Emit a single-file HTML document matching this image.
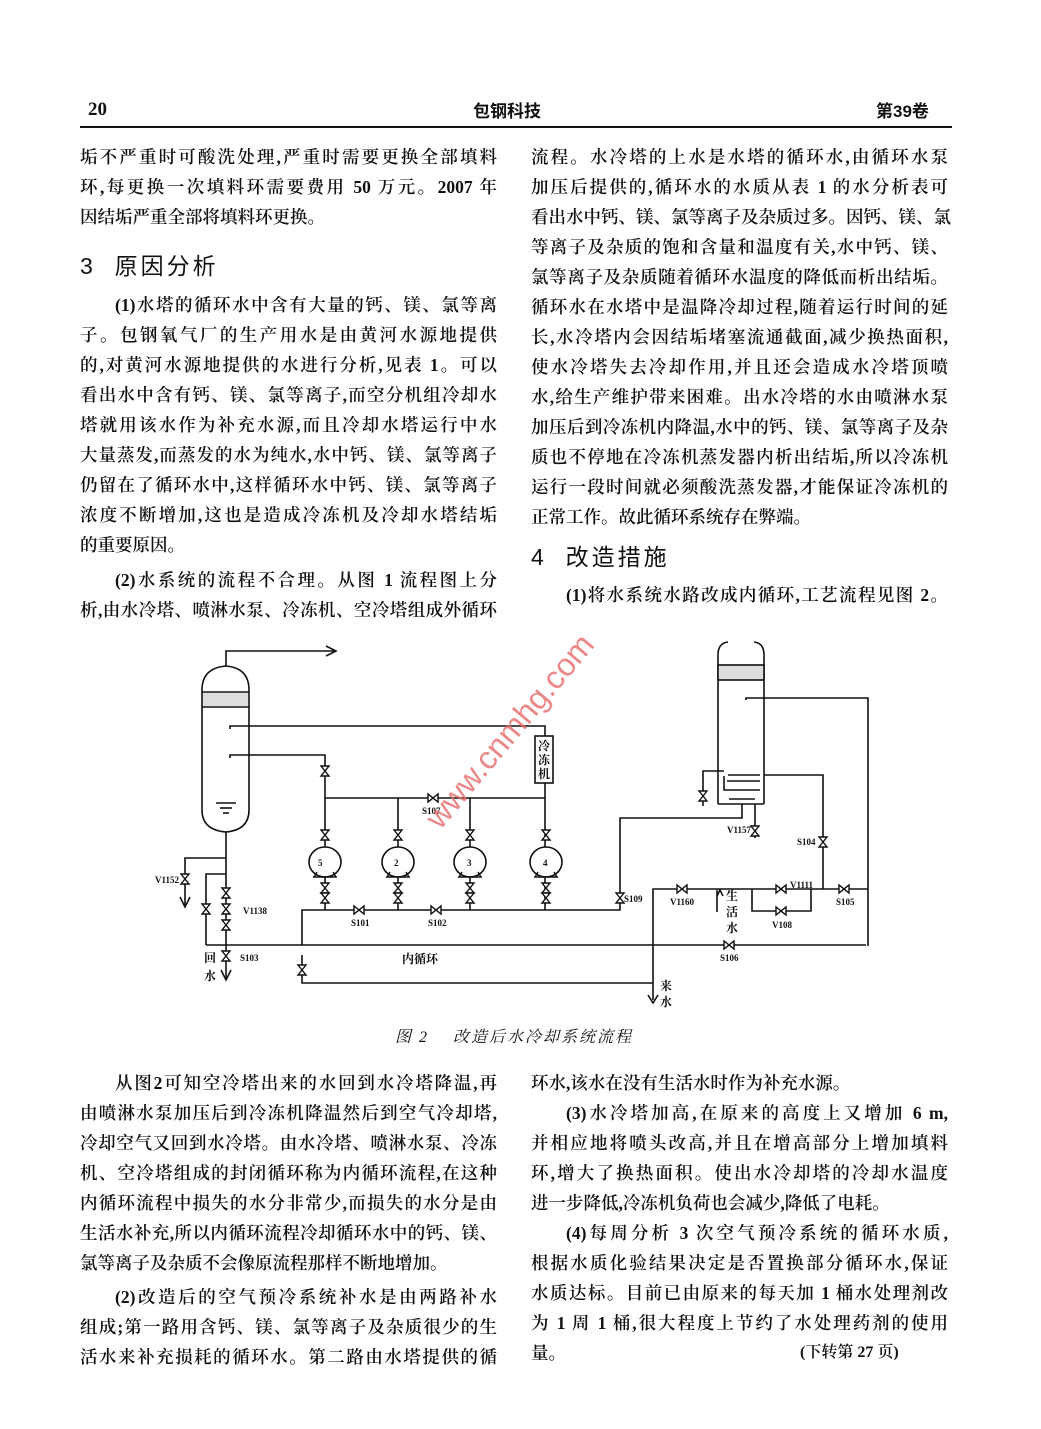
<!DOCTYPE html>
<html><head><meta charset="utf-8"><style>
body{margin:0;background:#fff;}
#p{position:relative;width:1041px;height:1429px;overflow:hidden;background:#fff;font-family:"Liberation Serif","Noto Serif CJK SC",serif;color:#111;}
.l{position:absolute;font-size:17.5px;line-height:22px;height:22px;white-space:nowrap;text-align:justify;text-align-last:justify;font-weight:600;}
.L{left:80px;width:417px}.R{left:531px;width:417px}
.n{text-align-last:left}
.i{text-indent:35px}
.h{position:absolute;font-size:23px;font-family:"Liberation Sans","Noto Sans CJK SC",sans-serif;letter-spacing:3px}
svg text{font-family:"Liberation Serif","Noto Serif CJK SC",serif;font-weight:bold;}
</style></head><body><div id="p">
<div style="position:absolute;left:88px;top:99px;font-size:19px;font-weight:bold">20</div>
<div style="position:absolute;left:473px;top:97px;font-size:17px;font-weight:bold;font-family:'Liberation Sans','Noto Sans CJK SC',sans-serif">包钢科技</div>
<div style="position:absolute;left:876px;top:97px;font-size:17px;font-weight:bold;font-family:'Liberation Sans','Noto Sans CJK SC',sans-serif">第39卷</div>
<div style="position:absolute;left:80px;top:126px;width:872px;height:2px;background:#111"></div>

<div class="l L" style="top:146px">垢不严重时可酸洗处理,严重时需要更换全部填料</div>
<div class="l L" style="top:176px">环,每更换一次填料环需要费用 50 万元。2007 年</div>
<div class="l L n" style="top:206px">因结垢严重全部将填料环更换。</div>
<div class="h" style="left:80px;top:247px">3&nbsp;&nbsp;原因分析</div>
<div class="l L i" style="top:294px">(1)水塔的循环水中含有大量的钙、镁、氯等离</div>
<div class="l L" style="top:324px">子。包钢氧气厂的生产用水是由黄河水源地提供</div>
<div class="l L" style="top:354px">的,对黄河水源地提供的水进行分析,见表 1。可以</div>
<div class="l L" style="top:384px">看出水中含有钙、镁、氯等离子,而空分机组冷却水</div>
<div class="l L" style="top:414px">塔就用该水作为补充水源,而且冷却水塔运行中水</div>
<div class="l L" style="top:444px">大量蒸发,而蒸发的水为纯水,水中钙、镁、氯等离子</div>
<div class="l L" style="top:474px">仍留在了循环水中,这样循环水中钙、镁、氯等离子</div>
<div class="l L" style="top:504px">浓度不断增加,这也是造成冷冻机及冷却水塔结垢</div>
<div class="l L n" style="top:534px">的重要原因。</div>
<div class="l L i" style="top:569px">(2)水系统的流程不合理。从图 1 流程图上分</div>
<div class="l L" style="top:599px">析,由水冷塔、喷淋水泵、冷冻机、空冷塔组成外循环</div>

<div class="l R" style="top:146px">流程。水冷塔的上水是水塔的循环水,由循环水泵</div>
<div class="l R" style="top:176px">加压后提供的,循环水的水质从表 1 的水分析表可</div>
<div class="l R" style="top:206px">看出水中钙、镁、氯等离子及杂质过多。因钙、镁、氯</div>
<div class="l R" style="top:236px">等离子及杂质的饱和含量和温度有关,水中钙、镁、</div>
<div class="l R" style="top:266px">氯等离子及杂质随着循环水温度的降低而析出结垢。</div>
<div class="l R" style="top:296px">循环水在水塔中是温降冷却过程,随着运行时间的延</div>
<div class="l R" style="top:326px">长,水冷塔内会因结垢堵塞流通截面,减少换热面积,</div>
<div class="l R" style="top:356px">使水冷塔失去冷却作用,并且还会造成水冷塔顶喷</div>
<div class="l R" style="top:386px">水,给生产维护带来困难。出水冷塔的水由喷淋水泵</div>
<div class="l R" style="top:416px">加压后到冷冻机内降温,水中的钙、镁、氯等离子及杂</div>
<div class="l R" style="top:446px">质也不停地在冷冻机蒸发器内析出结垢,所以冷冻机</div>
<div class="l R" style="top:476px">运行一段时间就必须酸洗蒸发器,才能保证冷冻机的</div>
<div class="l R n" style="top:506px">正常工作。故此循环系统存在弊端。</div>
<div class="h" style="left:531px;top:538px">4&nbsp;&nbsp;改造措施</div>
<div class="l R i" style="top:584px">(1)将水系统水路改成内循环,工艺流程见图 2。</div>

<svg style="position:absolute;left:0;top:0" width="1041" height="1429" fill="none" stroke="#111" stroke-width="1.6">
<path d="M202,690 Q202,668 226,666 Q249,668 249,690 L249,810 Q249,830 226,832 Q202,830 202,810 Z"/>
<line x1="202" y1="692" x2="249" y2="692"/><line x1="202" y1="707" x2="249" y2="707"/>
<rect x="203" y="693" width="45" height="13" fill="#ddd" stroke="none"/>
<polyline points="226,666 226,651 335,651"/><polyline points="326,646 336,651 326,656"/>
<line x1="216" y1="803" x2="236" y2="803"/><line x1="220" y1="808" x2="232" y2="808"/><line x1="223" y1="813" x2="229" y2="813"/>
<polyline points="230,729 230,726 545,726 545,736"/>
<polyline points="230,758 230,755 325,755 325,910"/>
<rect x="535" y="736" width="18" height="47"/>
<line x1="545" y1="783" x2="545" y2="910"/>
<line x1="325" y1="798" x2="545" y2="798"/>
<line x1="398" y1="798" x2="398" y2="910"/><line x1="470" y1="798" x2="470" y2="910"/>
<g fill="#fff">
<ellipse cx="325" cy="862" rx="16" ry="15"/><ellipse cx="398" cy="862" rx="16" ry="15"/><ellipse cx="470" cy="862" rx="16" ry="15"/><ellipse cx="546" cy="862" rx="16" ry="15"/>
</g>
<g stroke-width="1.4">
<path d="M313,877 h24 M317,872 l-3,5 M333,872 l3,5"/><path d="M386,877 h24 M390,872 l-3,5 M406,872 l3,5"/><path d="M458,877 h24 M462,872 l-3,5 M478,872 l3,5"/><path d="M534,877 h24 M538,872 l-3,5 M554,872 l3,5"/>
</g>
<polyline points="302,945 302,910 620,910 620,818 742,818 742,804"/>
<line x1="206" y1="945" x2="866" y2="945"/>
<polyline points="302,955 302,983 653,983"/>
<line x1="226" y1="832" x2="226" y2="978"/><polyline points="221,970 226,980 231,970"/>
<polyline points="226,858 185,858 185,905"/><polyline points="180,897 185,907 190,897"/>
<polyline points="226,874 206,874 206,945"/>
<path d="M718,664 L718,655 Q718,643 728,642 M764,664 L764,655 Q764,643 754,642"/>
<line x1="718" y1="664" x2="718" y2="804"/><line x1="764" y1="664" x2="764" y2="804"/>
<rect x="718" y="665" width="46" height="15" fill="#ddd"/>
<polyline points="718,804 764,804"/>
<polyline points="724,776 724,790 760,790"/><line x1="727" y1="781" x2="760" y2="781"/><line x1="729" y1="799" x2="755" y2="799"/><line x1="728" y1="775" x2="760" y2="775"/>
<polyline points="746,700 746,698 868,698 868,946"/>
<polyline points="764,775 823,775 823,889"/>
<polyline points="724,771 703,771 703,806"/>
<line x1="755" y1="804" x2="755" y2="838"/>
<polyline points="653,1000 653,889 868,889"/>
<polyline points="648,995 653,1003 658,995"/>
<polyline points="717,896 720,890 723,896"/>
<line x1="717" y1="890" x2="717" y2="912"/>
<polyline points="752,889 752,911 811,911 811,889"/>
</svg>
<svg style="position:absolute;left:0;top:0" width="1041" height="1429" stroke="#111" stroke-width="1.4" fill="#fff">
<g>
<path d="M321,766 l8,0 l-8,10 l8,0 z"/>
<path d="M321,883 l8,0 l-8,10 l8,0 z"/><path d="M394,883 l8,0 l-8,10 l8,0 z"/><path d="M466,883 l8,0 l-8,10 l8,0 z"/><path d="M542,883 l8,0 l-8,10 l8,0 z"/>
<path d="M321,893 l8,0 l-8,10 l8,0 z"/><path d="M394,893 l8,0 l-8,10 l8,0 z"/><path d="M466,893 l8,0 l-8,10 l8,0 z"/><path d="M542,893 l8,0 l-8,10 l8,0 z"/>
<path d="M394,830 l8,0 l-8,10 l8,0 z"/><path d="M466,830 l8,0 l-8,10 l8,0 z"/><path d="M542,830 l8,0 l-8,10 l8,0 z"/><path d="M321,830 l8,0 l-8,10 l8,0 z"/>
<path d="M222,888 l8,0 l-8,10 l8,0 z"/><path d="M222,904 l8,0 l-8,10 l8,0 z"/><path d="M222,920 l8,0 l-8,10 l8,0 z"/><path d="M222,951 l8,0 l-8,10 l8,0 z"/>
<path d="M202,904 l8,0 l-8,10 l8,0 z"/><path d="M181,874 l8,0 l-8,10 l8,0 z"/>
<path d="M298,965 l8,0 l-8,10 l8,0 z"/>
<path d="M428,794 l0,8 l10,-8 l0,8 z"/><path d="M354,906 l0,8 l10,-8 l0,8 z"/><path d="M431,906 l0,8 l10,-8 l0,8 z"/>
<path d="M699,791 l8,0 l-8,10 l8,0 z"/><path d="M751,826 l8,0 l-8,10 l8,0 z"/><path d="M819,837 l8,0 l-8,10 l8,0 z"/><path d="M616,893 l8,0 l-8,10 l8,0 z"/>
<path d="M677,885 l0,8 l10,-8 l0,8 z"/><path d="M776,885 l0,8 l10,-8 l0,8 z"/><path d="M776,907 l0,8 l10,-8 l0,8 z"/><path d="M839,885 l0,8 l10,-8 l0,8 z"/><path d="M724,941 l0,8 l10,-8 l0,8 z"/>
</g>
<g fill="#111" stroke="none" font-size="9">
<text x="318" y="866">5</text><text x="394" y="866">2</text><text x="467" y="866">3</text><text x="543" y="866">4</text>
<text x="422" y="814">S107</text><text x="351" y="926">S101</text><text x="428" y="926">S102</text>
<text x="155" y="883">V1152</text><text x="243" y="914">V1138</text><text x="240" y="961">S103</text>
<text x="727" y="833">V1157</text><text x="797" y="845">S104</text><text x="624" y="902">S109</text><text x="670" y="905">V1160</text>
<text x="790" y="888">V1111</text><text x="772" y="928">V108</text><text x="836" y="905">S105</text><text x="720" y="961">S106</text>
</g>
<g fill="#111" stroke="none" font-size="12">
<text x="204" y="962">回</text><text x="204" y="980">水</text>
<text x="402" y="963">内循环</text>
<text x="726" y="900">生</text><text x="726" y="916">活</text><text x="726" y="932">水</text>
<text x="660" y="990">来</text><text x="660" y="1006">水</text>
<text x="538" y="750" font-weight="normal">冷</text><text x="538" y="764" font-weight="normal">冻</text><text x="538" y="778" font-weight="normal">机</text>
</g>
</svg>
<div style="position:absolute;left:418px;top:812px;transform:rotate(-50deg);transform-origin:left top;color:#e86a6a;font-size:32px;font-family:'Liberation Sans',sans-serif;opacity:.8;white-space:nowrap">www.cnmhg.com</div>

<div style="position:absolute;left:395px;top:1024px;font-size:16px;font-style:italic;letter-spacing:2px">图 2&nbsp;&nbsp;&nbsp;&nbsp;改造后水冷却系统流程</div>

<div class="l L i" style="top:1072px">从图2可知空冷塔出来的水回到水冷塔降温,再</div>
<div class="l L" style="top:1102px">由喷淋水泵加压后到冷冻机降温然后到空气冷却塔,</div>
<div class="l L" style="top:1132px">冷却空气又回到水冷塔。由水冷塔、喷淋水泵、冷冻</div>
<div class="l L" style="top:1162px">机、空冷塔组成的封闭循环称为内循环流程,在这种</div>
<div class="l L" style="top:1192px">内循环流程中损失的水分非常少,而损失的水分是由</div>
<div class="l L" style="top:1222px">生活水补充,所以内循环流程冷却循环水中的钙、镁、</div>
<div class="l L n" style="top:1252px">氯等离子及杂质不会像原流程那样不断地增加。</div>
<div class="l L i" style="top:1286px">(2)改造后的空气预冷系统补水是由两路补水</div>
<div class="l L" style="top:1316px">组成;第一路用含钙、镁、氯等离子及杂质很少的生</div>
<div class="l L" style="top:1346px">活水来补充损耗的循环水。第二路由水塔提供的循</div>

<div class="l R n" style="top:1072px">环水,该水在没有生活水时作为补充水源。</div>
<div class="l R i" style="top:1102px">(3)水冷塔加高,在原来的高度上又增加 6 m,</div>
<div class="l R" style="top:1132px">并相应地将喷头改高,并且在增高部分上增加填料</div>
<div class="l R" style="top:1162px">环,增大了换热面积。使出水冷却塔的冷却水温度</div>
<div class="l R n" style="top:1192px">进一步降低,冷冻机负荷也会减少,降低了电耗。</div>
<div class="l R i" style="top:1222px">(4)每周分析 3 次空气预冷系统的循环水质,</div>
<div class="l R" style="top:1252px">根据水质化验结果决定是否置换部分循环水,保证</div>
<div class="l R" style="top:1282px">水质达标。目前已由原来的每天加 1 桶水处理剂改</div>
<div class="l R" style="top:1312px">为 1 周 1 桶,很大程度上节约了水处理药剂的使用</div>
<div class="l R n" style="top:1342px">量。</div>
<div class="l" style="top:1342px;left:800px;font-size:16px">(下转第 27 页)</div>
</div></body></html>
